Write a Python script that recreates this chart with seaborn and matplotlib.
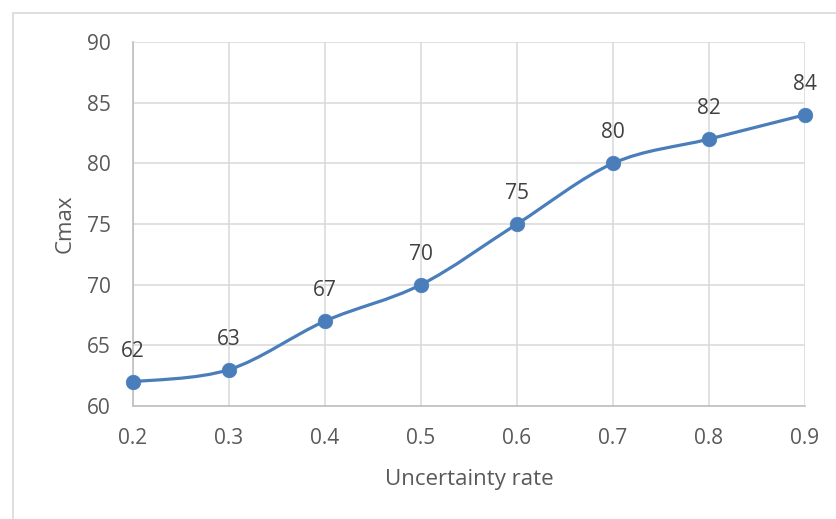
import numpy as np
import pandas as pd
import matplotlib
matplotlib.use("Agg")
import matplotlib.pyplot as plt
from matplotlib.path import Path
from matplotlib.patches import PathPatch, Rectangle
import seaborn as sns

uncertainty_rate = [0.2, 0.3, 0.4, 0.5, 0.6, 0.7, 0.8, 0.9]
cmax = [62, 63, 67, 70, 75, 80, 82, 84]
y_ticks = [60, 65, 70, 75, 80, 85, 90]

LINE_BLUE = "#4a7ebb"
TEXT_GREY = "#595959"
GRID_GREY = "#d9d9d9"
FS = 15


def smooth_path(xs, ys):
    """Excel-like smoothed line: Catmull-Rom segments written as cubic Beziers."""
    pts = np.column_stack([xs, ys]).astype(float)
    n = len(pts)
    verts = [pts[0]]
    codes = [Path.MOVETO]
    for i in range(n - 1):
        p0 = pts[i - 1] if i > 0 else pts[i]
        p1 = pts[i]
        p2 = pts[i + 1]
        p3 = pts[i + 2] if i + 2 < n else pts[i + 1]
        c1 = p1 + (p2 - p0) / 6.0
        c2 = p2 - (p3 - p1) / 6.0
        verts += [c1, c2, p2]
        codes += [Path.CURVE4] * 3
    return Path(verts, codes)


df = pd.DataFrame({"rate": uncertainty_rate, "cmax": cmax})

sns.set_style("white")
plt.rcParams["font.family"] = ["Open Sans", "DejaVu Sans"]

fig = plt.figure(figsize=(8.36, 5.19), dpi=100)
ax = fig.add_axes([0.1591, 0.2177, 0.8038, 0.7014])

# outer chart frame like the Excel chart area
fig.patches.append(Rectangle((13 / 836, -0.05), 1.2, 1.05 - 13 / 519,
                             transform=fig.transFigure, fill=False,
                             edgecolor=GRID_GREY, linewidth=1.2, zorder=0))

ax.add_patch(PathPatch(smooth_path(df["rate"], df["cmax"]), facecolor="none",
                       edgecolor=LINE_BLUE, linewidth=2.3, capstyle="round",
                       joinstyle="round", zorder=3))
sns.scatterplot(data=df, x="rate", y="cmax", ax=ax, color=LINE_BLUE, s=110,
                edgecolor=LINE_BLUE, linewidth=0.5, zorder=4, legend=False,
                clip_on=False)

for x, y in zip(uncertainty_rate, cmax):
    ax.annotate(str(y), (x, y), xytext=(0, 22), textcoords="offset points",
                ha="center", va="center", fontsize=FS, color="#404040")

ax.set_xlim(0.2, 0.9)
ax.set_ylim(60, 90)
ax.set_xticks(uncertainty_rate)
ax.set_xticklabels([f"{v:.1f}" for v in uncertainty_rate])
ax.set_yticks(y_ticks)
ax.grid(True, color=GRID_GREY, linewidth=1.1)
ax.set_axisbelow(True)
for side in ["top", "right"]:
    ax.spines[side].set_visible(False)
for side in ["left", "bottom"]:
    ax.spines[side].set_color("#bfbfbf")
    ax.spines[side].set_linewidth(1.2)
ax.tick_params(axis="both", length=0, labelsize=FS, colors=TEXT_GREY)
ax.tick_params(axis="y", pad=16)
ax.tick_params(axis="x", pad=16)

ax.set_xlabel("Uncertainty rate", fontsize=16, color=TEXT_GREY, labelpad=14)
ax.set_ylabel("Cmax", fontsize=16, color=TEXT_GREY, labelpad=8)

fig.savefig("out.png", dpi=100)
